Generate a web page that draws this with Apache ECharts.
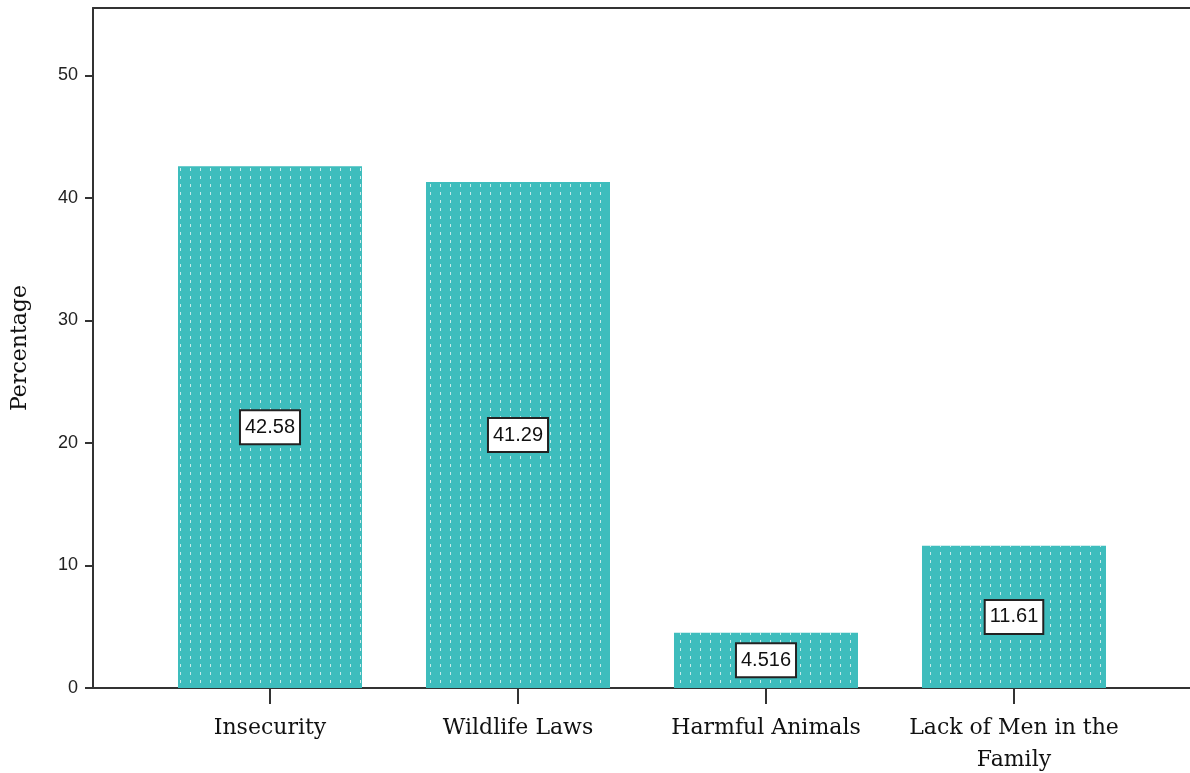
<!DOCTYPE html>
<html>
<head>
<meta charset="utf-8">
<script src="https://cdn.jsdelivr.net/npm/echarts@6/dist/echarts.min.js"></script>
<style>
html,body{margin:0;padding:0;background:#fff;}
#chart{width:1190px;height:773px;}
</style>
</head>
<body>
<div id="chart"></div>
<script>
var categories = ['Insecurity', 'Wildlife Laws', 'Harmful Animals', 'Lack of Men in the\nFamily'];
var percentages = [42.58, 41.29, 4.516, 11.61];
var yTicks = [0, 10, 20, 30, 40, 50];

var chart = echarts.init(document.getElementById('chart'));

var positions = categories.map(function (c, i) { return i; });
var barData = percentages.map(function (v, i) { return [i, v]; });

var option = {
	animation: false,
	grid: { left: 93, right: 0, top: 8, bottom: 85, containLabel: false, outerBoundsMode: 'none' },
	xAxis: [{
		type: 'value',
		min: -0.7137,
		max: 3.7097,
		splitLine: { show: false },
		axisLine: { onZero: false, lineStyle: { color: '#333', width: 2 } },
		axisTick: { customValues: positions, length: 16, lineStyle: { color: '#333', width: 2 } },
		axisLabel: {
			customValues: positions,
			formatter: function (v) { return categories[Math.round(v)]; },
			fontFamily: 'DejaVu Serif',
			fontSize: 22,
			color: '#111',
			margin: 24,
			lineHeight: 32
		}
	}, {
		type: 'value',
		position: 'top',
		min: -0.7137,
		max: 3.7097,
		splitLine: { show: false },
		axisLine: { show: true, onZero: false, lineStyle: { color: '#333', width: 2 } },
		axisTick: { show: false },
		axisLabel: { show: false }
	}],
	yAxis: {
		type: 'value',
		min: 0,
		max: 55.5,
		interval: 10,
		name: 'Percentage',
		nameLocation: 'middle',
		nameGap: 62,
		nameTextStyle: { fontFamily: 'DejaVu Serif', fontSize: 22, color: '#111' },
		splitLine: { show: false },
		axisLine: { show: true, onZero: false, lineStyle: { color: '#333', width: 2 } },
		axisTick: { show: true, customValues: yTicks, length: 8, lineStyle: { color: '#333', width: 2 } },
		axisLabel: {
			customValues: yTicks,
			fontFamily: 'Liberation Sans',
			fontSize: 18,
			color: '#222',
			margin: 15
		}
	},
	series: [{
		type: 'bar',
		barWidth: 184,
		data: barData,
		itemStyle: {
			color: '#3ebdbd',
			decal: {
				symbol: 'rect',
				symbolSize: 1,
				color: 'rgba(255,255,255,0.7)',
				dashArrayX: [1, 9],
				dashArrayY: [3, 5],
				rotation: 0
			}
		},
		label: {
			show: true,
			position: 'inside',
			formatter: function (p) { return String(p.value[1]); },
			fontFamily: 'Liberation Sans',
			fontSize: 20,
			color: '#111',
			backgroundColor: '#fff',
			borderColor: '#222',
			borderWidth: 2,
			padding: [7, 4, 5, 4]
		}
	}]
};

chart.setOption(option);
</script>
</body>
</html>
